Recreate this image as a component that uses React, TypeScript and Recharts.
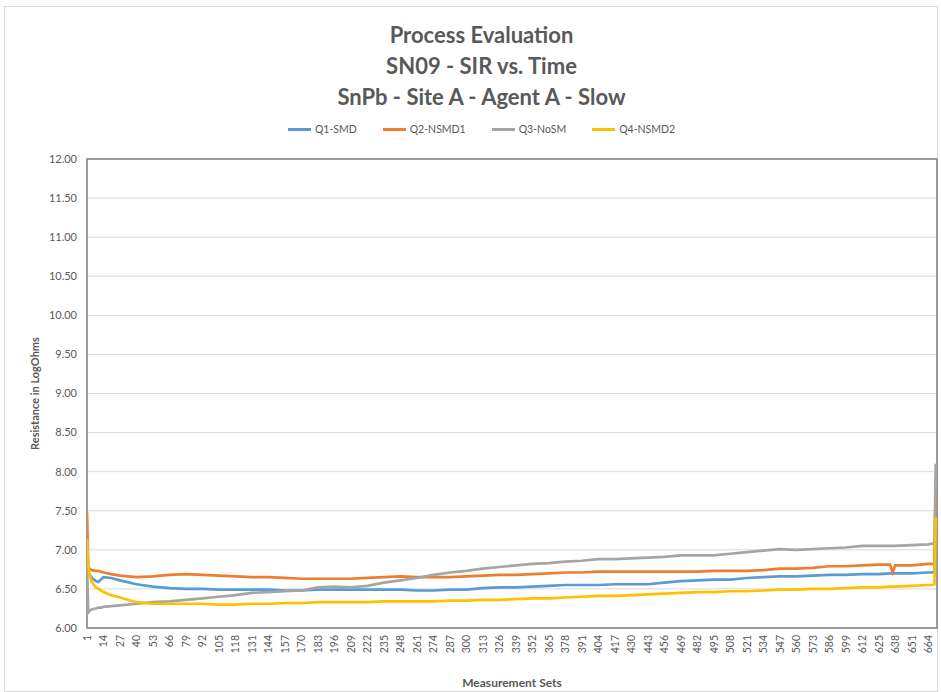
import { CartesianGrid, Label, Line, LineChart, ReferenceArea, XAxis, YAxis } from "recharts";

const sets = [
  1, 2, 3, 5, 8, 10, 12, 14, 20,
  27, 40, 53, 66, 79, 92, 105, 118, 131, 144,
  157, 170, 183, 196, 209, 222, 235, 248, 261, 274,
  287, 300, 313, 326, 339, 352, 365, 378, 391, 404,
  417, 430, 443, 456, 469, 482, 495, 508, 521, 534,
  547, 560, 573, 586, 599, 612, 625,
  634, 636, 638, 651, 664, 667, 669, 670, 671,
];

const q1Smd = [
  6.8, 6.72, 6.68, 6.64, 6.6, 6.59, 6.62, 6.65, 6.64,
  6.61, 6.56, 6.53, 6.51, 6.5, 6.5, 6.49, 6.49, 6.49, 6.49,
  6.48, 6.48, 6.49, 6.49, 6.49, 6.49, 6.49, 6.49, 6.48, 6.48,
  6.49, 6.49, 6.51, 6.52, 6.52, 6.53, 6.54, 6.55, 6.55, 6.55,
  6.56, 6.56, 6.56, 6.58, 6.6, 6.61, 6.62, 6.62, 6.64, 6.65,
  6.66, 6.66, 6.67, 6.68, 6.68, 6.69, 6.69,
  6.7, 6.7, 6.7, 6.7, 6.71, 6.71, 6.72, 7.5, 7.48,
];

const q2Nsmd1 = [
  7.49, 6.78, 6.76, 6.74, 6.73, 6.73, 6.72, 6.71, 6.69,
  6.67, 6.65, 6.66, 6.68, 6.69, 6.68, 6.67, 6.66, 6.65, 6.65,
  6.64, 6.63, 6.63, 6.63, 6.63, 6.64, 6.65, 6.66, 6.65, 6.65,
  6.65, 6.66, 6.67, 6.68, 6.68, 6.69, 6.7, 6.71, 6.71, 6.72,
  6.72, 6.72, 6.72, 6.72, 6.72, 6.72, 6.73, 6.73, 6.73, 6.74,
  6.76, 6.76, 6.77, 6.79, 6.79, 6.8, 6.81,
  6.81, 6.71, 6.8, 6.8, 6.82, 6.82, 6.82, 7.82, 7.78,
];

const q3NoSm = [
  6.78, 6.2, 6.22, 6.24, 6.25, 6.26, 6.26, 6.27, 6.28,
  6.29, 6.31, 6.33, 6.34, 6.36, 6.38, 6.4, 6.42, 6.45, 6.46,
  6.47, 6.48, 6.52, 6.53, 6.52, 6.54, 6.58, 6.61, 6.64, 6.68,
  6.71, 6.73, 6.76, 6.78, 6.8, 6.82, 6.83, 6.85, 6.86, 6.88,
  6.88, 6.89, 6.9, 6.91, 6.93, 6.93, 6.93, 6.95, 6.97, 6.99,
  7.01, 7.0, 7.01, 7.02, 7.03, 7.05, 7.05,
  7.05, 7.05, 7.05, 7.06, 7.07, 7.08, 7.08, 8.1, 7.95,
];

const q4Nsmd2 = [
  7.14, 6.82, 6.68, 6.58, 6.52, 6.5, 6.48, 6.46, 6.42,
  6.39, 6.33, 6.31, 6.31, 6.31, 6.31, 6.3, 6.3, 6.31, 6.31,
  6.32, 6.32, 6.33, 6.33, 6.33, 6.33, 6.34, 6.34, 6.34, 6.34,
  6.35, 6.35, 6.36, 6.36, 6.37, 6.38, 6.38, 6.39, 6.4, 6.41,
  6.41, 6.42, 6.43, 6.44, 6.45, 6.46, 6.46, 6.47, 6.47, 6.48,
  6.49, 6.49, 6.5, 6.5, 6.51, 6.52, 6.52,
  6.53, 6.53, 6.53, 6.54, 6.55, 6.55, 6.56, 7.42, 7.35,
];

const xTicks = [
  1, 14, 27, 40, 53, 66, 79, 92, 105, 118, 131, 144, 157, 170, 183, 196, 209,
  222, 235, 248, 261, 274, 287, 300, 313, 326, 339, 352, 365, 378, 391, 404,
  417, 430, 443, 456, 469, 482, 495, 508, 521, 534, 547, 560, 573, 586, 599,
  612, 625, 638, 651, 664,
];

const yTicks = [6, 6.5, 7, 7.5, 8, 8.5, 9, 9.5, 10, 10.5, 11, 11.5, 12];

const series = [
  { key: "q1", name: "Q1-SMD", color: "#5B9BD5", values: q1Smd },
  { key: "q2", name: "Q2-NSMD1", color: "#ED7D31", values: q2Nsmd1 },
  { key: "q3", name: "Q3-NoSM", color: "#A5A5A5", values: q3NoSm },
  { key: "q4", name: "Q4-NSMD2", color: "#FFC000", values: q4Nsmd2 },
];

const data = sets.map((set, i) => {
  const row: Record<string, number> = { set };
  series.forEach((s) => {
    row[s.key] = s.values[i];
  });
  return row;
});

const FONT = "Lato, 'Open Sans', sans-serif";
const TEXT = "#595959";

function XTick({ x, y, payload }: any) {
  return (
    <text
      x={x}
      y={y}
      transform={`rotate(-90, ${x}, ${y})`}
      textAnchor="end"
      dominantBaseline="central"
      fontSize={10.5}
      fill={TEXT}
      fontFamily={FONT}
    >
      {payload.value}
    </text>
  );
}

export default function App() {
  return (
    <div
      style={{
        position: "absolute",
        left: 0,
        top: 0,
        width: 941,
        height: 692,
        background: "#fff",
        fontFamily: FONT,
      }}
    >
      <div
        style={{
          position: "absolute",
          left: 4,
          top: 6,
          width: 932,
          height: 684,
          border: "1px solid #d9d9d9",
        }}
      />
      <div
        style={{
          position: "absolute",
          left: 11,
          top: 19,
          width: 941,
          textAlign: "center",
          color: TEXT,
          fontWeight: 700,
          fontSize: 22,
          lineHeight: "31px",
        }}
      >
        <div>Process Evaluation</div>
        <div>SN09 - SIR vs. Time</div>
        <div>SnPb - Site A - Agent A - Slow</div>
      </div>
      <div
        style={{
          position: "absolute",
          left: 11,
          top: 123,
          width: 941,
          display: "flex",
          justifyContent: "center",
          gap: 26,
          fontSize: 10.5,
          color: TEXT,
        }}
      >
        {series.map((s) => (
          <div key={s.key} style={{ display: "flex", alignItems: "center", gap: 4 }}>
            <span style={{ display: "inline-block", width: 23, height: 3, background: s.color }} />
            <span>{s.name}</span>
          </div>
        ))}
      </div>
      <div style={{ position: "absolute", left: 0, top: 0 }}>
        <LineChart
          width={941}
          height={692}
          data={data}
          margin={{ top: 159, right: 4, bottom: 20, left: 27 }}
        >
          <CartesianGrid horizontal vertical={false} stroke="#d9d9d9" />
          <XAxis
            dataKey="set"
            type="number"
            domain={[1, 671]}
            ticks={xTicks}
            interval={0}
            tick={<XTick />}
            tickLine={false}
            tickSize={0}
            tickMargin={7}
            axisLine={false}
            height={44}
            allowDataOverflow
          >
            <Label
              value="Measurement Sets"
              position="insideBottom"
              offset={-15}
              fill={TEXT}
              fontSize={12}
              fontWeight={700}
              fontFamily={FONT}
            />
          </XAxis>
          <YAxis
            domain={[6, 12]}
            ticks={yTicks}
            interval={0}
            tickFormatter={(v: number) => v.toFixed(2)}
            tick={{ fill: TEXT, fontSize: 11, fontFamily: FONT }}
            tickLine={false}
            tickSize={0}
            tickMargin={10}
            axisLine={false}
            width={60}
            allowDataOverflow
          >
            <Label
              value="Resistance in LogOhms"
              angle={-90}
              position="insideLeft"
              offset={8}
              style={{ textAnchor: "middle" }}
              fill={TEXT}
              fontSize={11}
              fontWeight={700}
              fontFamily={FONT}
            />
          </YAxis>
          <ReferenceArea
            x1={1}
            x2={671}
            y1={6}
            y2={12}
            fill="none"
            stroke="#7f7f7f"
            strokeWidth={1.5}
            ifOverflow="visible"
          />
          {series.map((s) => (
            <Line
              key={s.key}
              dataKey={s.key}
              name={s.name}
              stroke={s.color}
              strokeWidth={2.7}
              dot={false}
              type="linear"
              isAnimationActive={false}
            />
          ))}
        </LineChart>
      </div>
    </div>
  );
}
